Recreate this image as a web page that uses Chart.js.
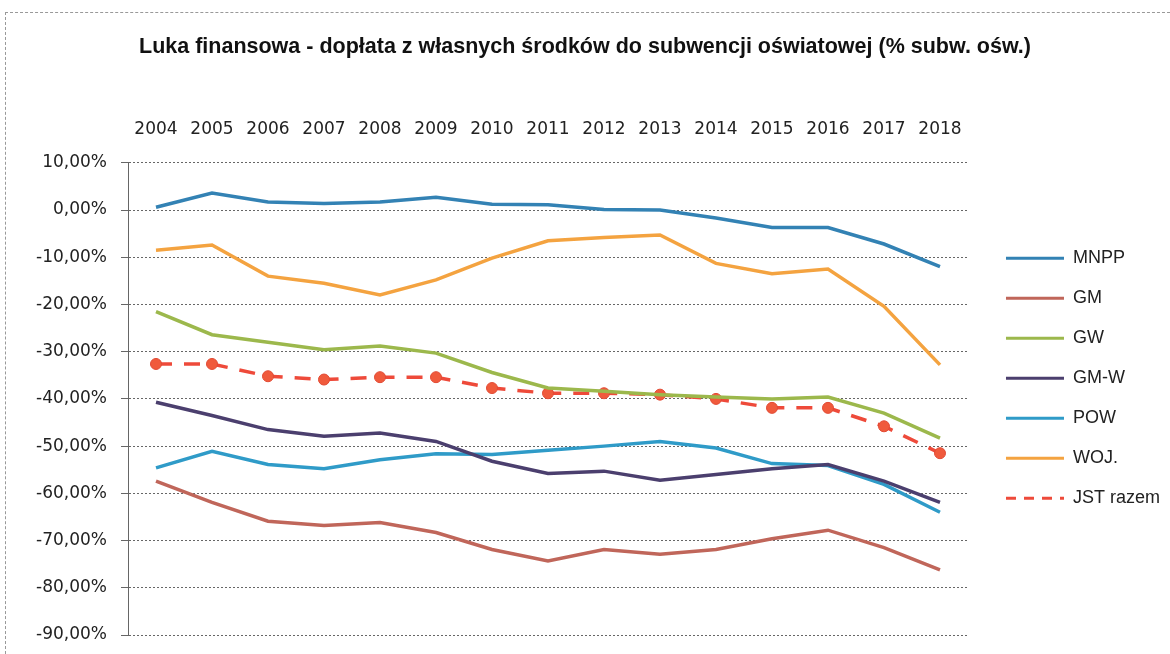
<!DOCTYPE html>
<html>
<head>
<meta charset="utf-8">
<script src="https://cdn.jsdelivr.net/npm/chart.js@4.4.0/dist/chart.umd.min.js"></script>
<style>
  html, body { margin: 0; padding: 0; background: #fff; }
  #wrap { position: absolute; left: 5px; top: 12px; width: 1165px; height: 642px;
          border-top: 1px dashed #999; border-left: 1px dashed #999; box-sizing: border-box; }
  #frame { position: absolute; left: 0; top: 0; width: 1170px; height: 654px; }
</style>
</head>
<body>
<div id="wrap"></div>
<div id="frame"><canvas id="chart" width="1170" height="654"></canvas></div>
<script>
// categories
const years = ['2004','2005','2006','2007','2008','2009','2010','2011','2012','2013','2014','2015','2016','2017','2018'];

// series values (% subw. ośw.)
const mnpp = [0.6, 3.6, 1.7, 1.4, 1.7, 2.7, 1.2, 1.1, 0.1, 0.0, -1.7, -3.7, -3.7, -7.2, -12.0];
const gm   = [-57.4, -61.9, -65.9, -66.8, -66.2, -68.3, -71.9, -74.3, -71.9, -72.9, -71.9, -69.6, -67.8, -71.5, -76.2];
const gw   = [-21.5, -26.4, -28.0, -29.6, -28.8, -30.3, -34.4, -37.7, -38.4, -39.1, -39.6, -40.0, -39.6, -43.0, -48.3];
const gmw  = [-40.7, -43.5, -46.5, -47.9, -47.2, -49.0, -53.2, -55.8, -55.3, -57.2, -56.0, -54.8, -53.9, -57.4, -61.9];
const pow  = [-54.6, -51.1, -53.9, -54.8, -52.9, -51.6, -51.8, -50.9, -50.0, -49.0, -50.4, -53.7, -54.1, -58.1, -64.0];
const woj  = [-8.5, -7.4, -14.0, -15.5, -18.0, -14.8, -10.2, -6.5, -5.8, -5.3, -11.3, -13.5, -12.5, -20.4, -32.8];
const jst  = [-32.6, -32.6, -35.2, -35.9, -35.4, -35.4, -37.7, -38.8, -38.8, -39.1, -40.0, -41.9, -41.9, -45.8, -51.5];

const seriesNames = ['MNPP', 'GM', 'GW', 'GM-W', 'POW', 'WOJ.', 'JST razem'];
const seriesColors = ['#3382b4', '#c0665a', '#9cb84c', '#4b3f6e', '#2f9bc8', '#f4a340', '#ee4a3a'];
const seriesData = [mnpp, gm, gw, gmw, pow, woj, jst];

const datasets = seriesData.map((vals, i) => {
  const isTotal = i === 6;
  const ds = {
    label: seriesNames[i],
    data: vals,
    borderColor: seriesColors[i],
    backgroundColor: seriesColors[i],
    borderWidth: 3.5,
    borderDash: isTotal ? [16, 12] : [],
    pointRadius: isTotal ? 5.5 : 0,
    tension: 0,
    fill: false
  };
  if (isTotal) {
    ds.pointBackgroundColor = '#f05a3c';
    ds.pointBorderColor = '#e24a34';
    ds.pointBorderWidth = 1;
  }
  return ds;
});

new Chart(document.getElementById('chart'), {
  type: 'line',
  data: { labels: years, datasets: datasets },
  options: {
    responsive: false,
    animation: false,
    layout: { padding: { left: 0, right: 0, top: 0, bottom: 19 } },
    plugins: {
      title: {
        display: true,
        text: 'Luka finansowa - dopłata z własnych środków do subwencji oświatowej (% subw. ośw.)',
        color: '#111',
        font: { family: 'Liberation Sans', size: 21.5, weight: 'bold' },
        padding: { top: 34, bottom: 0 }
      },
      legend: {
        position: 'right',
        align: 'start',
        fullSize: false,
        title: { display: true, text: ' ', font: { size: 12 }, padding: { top: 0, bottom: 50 } },
        labels: {
          color: '#222',
          font: { family: 'Liberation Sans', size: 18 },
          usePointStyle: true,
          pointStyleWidth: 58,
          boxWidth: 58,
          padding: 22,
          generateLabels: chart => chart.data.datasets.map((ds, i) => ({
            text: ds.label,
            fillStyle: ds.borderColor,
            strokeStyle: ds.borderColor,
            fontColor: '#222',
            lineWidth: 3,
            lineDash: i === 6 ? [10, 8] : [],
            pointStyle: 'line',
            hidden: false,
            datasetIndex: i
          }))
        }
      },
      tooltip: { enabled: false }
    },
    scales: {
      x: {
        position: 'top',
        offset: true,
        grid: { display: false, drawTicks: false },
        border: { display: false },
        ticks: {
          color: '#222',
          font: { family: 'DejaVu Sans', size: 17 },
          padding: 23,
          maxRotation: 0,
          autoSkip: false
        },
        afterFit: scale => { scale.height = 103; }
      },
      y: {
        min: -90,
        max: 10,
        ticks: {
          stepSize: 10,
          color: '#222',
          font: { family: 'DejaVu Sans', size: 17 },
          padding: 14,
          callback: v => v.toFixed(2).replace('.', ',') + '%'
        },
        grid: { color: '#666', lineWidth: 1, tickLength: 7 },
        border: { display: true, color: '#666', dash: [2, 2] },
        afterFit: scale => {
          scale.width = 128;
          scale.paddingTop = 0;
          scale.paddingBottom = 0;
        }
      },
      // empty right axis, only keeps a gap before the legend
      gap: {
        type: 'linear',
        position: 'right',
        display: true,
        grid: { display: false, drawTicks: false },
        border: { display: false },
        ticks: { display: false },
        afterFit: scale => {
          scale.width = 16;
          scale.paddingTop = 0;
          scale.paddingBottom = 0;
        }
      }
    }
  }
});
</script>
</body>
</html>
